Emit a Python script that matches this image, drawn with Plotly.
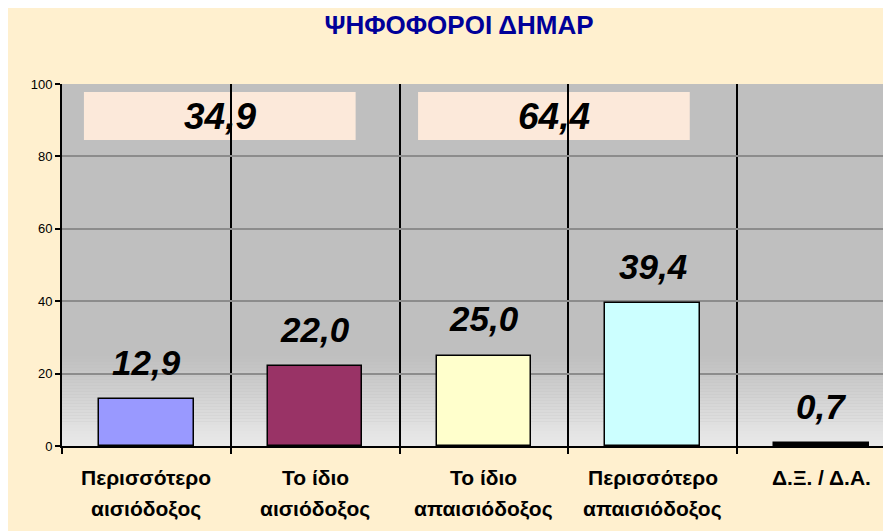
import plotly.graph_objects as go

categories = ["Περισσότερο\nαισιόδοξος", "Το ίδιο\nαισιόδοξος", "Το ίδιο\nαπαισιόδοξος",
              "Περισσότερο\nαπαισιόδοξος", "Δ.Ξ. / Δ.Α."]
values = [12.9, 22.0, 25.0, 39.4, 0.7]
bar_colors = ["#9999FF", "#993366", "#FFFFCC", "#CCFFFF", "#000000"]
groups = [[0, 1], [2, 3]]          # optimistic / pessimistic totals
group_boxes_x = [(-0.37, 1.24), (1.61, 3.22)]
y_ticks = [0, 20, 40, 60, 80, 100]
title_text = "ΨΗΦΟΦΟΡΟΙ ΔΗΜΑΡ"

FONT = "Liberation Sans, Arial, sans-serif"

def fmt(v):
    return f"{v:.1f}".replace(".", ",")

cat_keys = [c.replace("\n", " ") for c in categories]

fig = go.Figure()
fig.add_trace(go.Bar(
    x=cat_keys, y=values, width=0.56,
    marker=dict(color=bar_colors, line=dict(color="#000000", width=1.5)),
    hoverinfo="skip",
))

shapes = []
# plot-area gradient (grey to near white at bottom)
shapes.append(dict(type="rect", xref="paper", yref="y", x0=0, x1=1, y0=25, y1=100,
                   fillcolor="#BFBFBF", line=dict(width=0), layer="below"))
n = 30
for i in range(n):
    y0 = 25 * i / n
    y1 = 25 * (i + 1) / n
    t = (i + 0.5) / n
    g = int(round(234 + (191 - 234) * t))
    shapes.append(dict(type="rect", xref="paper", yref="y", x0=0, x1=1, y0=y0, y1=y1,
                       fillcolor=f"rgb({g},{g},{g})", line=dict(width=0), layer="below"))
# group total boxes
for (x0, x1) in group_boxes_x:
    shapes.append(dict(type="rect", xref="x", yref="y", x0=x0, x1=x1, y0=84.5, y1=97.8,
                       fillcolor="#FCE9DA", line=dict(width=0), layer="below"))

annotations = []
for (x0, x1), g in zip(group_boxes_x, groups):
    tot = sum(values[k] for k in g)
    annotations.append(dict(x=(x0 + x1) / 2, y=91.15, xref="x", yref="y", text=f"<b><i>{fmt(tot)}</i></b>",
                            showarrow=False, font=dict(family=FONT, size=37, color="#000000"),
                            xanchor="center", yanchor="middle"))
for k, v in zip(cat_keys, values):
    annotations.append(dict(x=k, y=v, xref="x", yref="y", text=f"<b><i>{fmt(v)}</i></b>",
                            showarrow=False, font=dict(family=FONT, size=35, color="#000000"),
                            xanchor="center", yanchor="middle", yshift=37))
for k, c in zip(cat_keys, categories):
    for j, line in enumerate(c.split("\n")):
        annotations.append(dict(x=k, y=0, xref="x", yref="paper", text=f"<b>{line}</b>",
                                showarrow=False, font=dict(family=FONT, size=21, color="#000000"),
                                xanchor="center", yanchor="middle", yshift=-31 - 32 * j))

fig.update_layout(
    width=891, height=531,
    margin=dict(l=54, r=0, t=76, b=93),
    paper_bgcolor="#FFF0CF",
    plot_bgcolor="#BFBFBF",
    showlegend=False,
    title=dict(text=f"<b>{title_text}</b>", x=451 / 891, xref="container", xanchor="center",
               y=1 - 17 / 531, yref="container", yanchor="middle",
               font=dict(family=FONT, size=26, color="#000099")),
    shapes=shapes,
    annotations=annotations,
    bargap=0,
)
fig.update_xaxes(
    type="category", range=[-0.5, 4.46], tickson="boundaries",
    showgrid=True, gridcolor="#000000", gridwidth=1.5,
    ticks="outside", ticklen=6, tickwidth=1.5, tickcolor="#000000",
    showticklabels=False,
    showline=True, linecolor="#000000", linewidth=2,
)
fig.update_yaxes(
    range=[0, 100], tickvals=y_ticks, ticks="outside", ticklen=5, tickwidth=1.5, tickcolor="#000000",
    showgrid=True, gridcolor="#8C8C8C", gridwidth=1.5,
    showline=True, linecolor="#000000", linewidth=2, zeroline=False,
    tickfont=dict(family=FONT, size=13, color="#000000"),
)

fig.write_html("out.html")
